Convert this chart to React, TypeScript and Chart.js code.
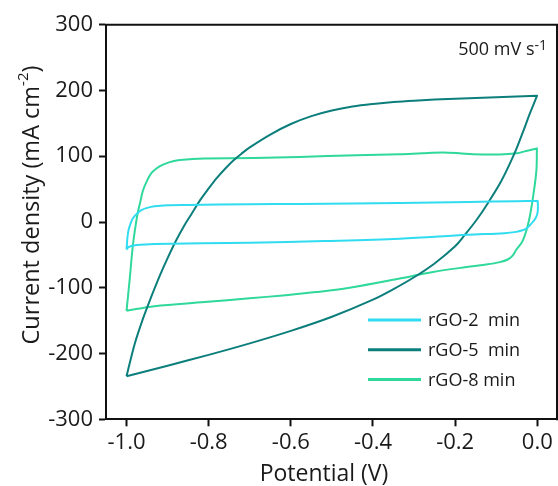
import React, { useEffect, useRef } from 'react';
import { Chart, registerables } from 'chart.js';

Chart.register(...registerables);

const FONT = "'Open Sans', 'DejaVu Sans', sans-serif";
const TEXT_COLOR = '#1a1a1a';
const AXIS_COLOR = '#111111';

const seriesLabels = ['rGO-2  min', 'rGO-5  min', 'rGO-8 min'];
const seriesColors = ['#30DCF0', '#0C7F7C', '#2FD89B'];

// rGO-2 min : potential (V) and current density (mA cm-2), loop order
const rgo2Potential = [
  -1.0, -0.998, -0.995, -0.99, -0.984, -0.976, -0.964, -0.95, -0.932, -0.9, -0.85, -0.7, -0.58, -0.45, -0.335,
  -0.165, -0.05, -0.001,
  0.001, 0.001, -0.004, -0.011, -0.018, -0.027, -0.038, -0.051, -0.08, -0.17, -0.335, -0.518, -0.7, -0.93,
  -0.975, -0.995, -1.0,
];
const rgo2Current = [
  -42, -25, -12, -2, 6, 12, 18, 21.5, 24, 25.5, 26, 27, 27.5, 28.3, 29,
  30.5, 31.5, 32,
  32, 15, 6, 0, -5, -10, -13, -15, -17, -19.5, -25.5, -29, -31.5, -33.5,
  -35, -38, -42,
];

// rGO-5 min
const rgo5Potential = [
  -1.0, -0.98, -0.96, -0.94, -0.92, -0.9, -0.88, -0.86, -0.84, -0.82, -0.8, -0.78, -0.76, -0.74, -0.72, -0.7,
  -0.65, -0.6, -0.55, -0.5, -0.45, -0.4, -0.35, -0.3, -0.2, -0.1, -0.001,
  -0.0005, -0.018, -0.036, -0.055, -0.087, -0.12, -0.148, -0.177, -0.2, -0.25, -0.3, -0.35, -0.4,
  -0.5, -0.6, -0.7, -0.8, -0.9, -1.0,
];
const rgo5Current = [
  -234.5, -185, -147, -114, -83, -55, -29, -6, 14, 34, 51, 67, 81, 93.5, 104, 113.5,
  133, 149, 161, 169.5, 175.5, 179.5, 182.5, 184.5, 187.5, 189.5, 192,
  192, 165, 135, 105, 63, 29, 3, -20, -37, -63, -84, -102, -118,
  -144, -165.5, -184.5, -202, -218.5, -234.5,
];

// rGO-8 min
const rgo8Potential = [
  -1.0, -0.992, -0.985, -0.979, -0.973, -0.966, -0.96, -0.95, -0.94, -0.928, -0.915, -0.895, -0.875, -0.84,
  -0.81, -0.69, -0.58, -0.44, -0.335, -0.28, -0.23, -0.19, -0.157, -0.092, -0.05, -0.027, -0.001,
  -0.001, -0.002, -0.008, -0.02, -0.035, -0.052, -0.06, -0.072, -0.091, -0.128, -0.172, -0.254, -0.335, -0.457,
  -0.538, -0.619, -0.7, -0.81, -0.932, -1.0,
];
const rgo8Current = [
  -135, -85, -38, -10, 13, 32, 48, 63, 74, 81, 86, 91, 94, 95.8,
  96.5, 97.5, 99, 101.5, 103, 104.5, 105.5, 104.5, 103, 102.6, 104.5, 108, 111.7,
  111.7, 80, 48, 3, -28, -43, -51, -57, -61, -65, -68.5, -76, -86, -100,
  -106.6, -111.6, -116, -121.8, -128, -135,
];

const seriesPotentials = [rgo2Potential, rgo5Potential, rgo8Potential];
const seriesCurrents = [rgo2Current, rgo5Current, rgo8Current];

const xTicks = [-1.0, -0.8, -0.6, -0.4, -0.2, 0.0];
const yTicks = [-300, -200, -100, 0, 100, 200, 300];

const xTitle = 'Potential (V)';
const yTitleParts = [
  { text: 'Current density (mA cm', sup: false },
  { text: '-2', sup: true },
  { text: ')', sup: false },
];
const rateParts = [
  { text: '500 mV s', sup: false },
  { text: '-1', sup: true },
];

type Part = { text: string; sup: boolean };

function drawParts(ctx: CanvasRenderingContext2D, parts: Part[], x: number, y: number, size: number, supSize: number, raise: number, align: 'left' | 'center' | 'right') {
  const widths = parts.map((p) => {
    ctx.font = `${p.sup ? supSize : size}px ${FONT}`;
    return ctx.measureText(p.text).width;
  });
  const total = widths.reduce((a, b) => a + b, 0);
  let cx = align === 'left' ? x : align === 'center' ? x - total / 2 : x - total;
  ctx.textAlign = 'left';
  ctx.textBaseline = 'alphabetic';
  parts.forEach((p, i) => {
    ctx.font = `${p.sup ? supSize : size}px ${FONT}`;
    ctx.fillText(p.text, cx, p.sup ? y - raise : y);
    cx += widths[i];
  });
}

const decorPlugin = {
  id: 'decor',
  afterDraw(chart: any) {
    const ctx: CanvasRenderingContext2D = chart.ctx;
    const a = chart.chartArea;
    ctx.save();
    // frame top and right
    ctx.strokeStyle = AXIS_COLOR;
    ctx.lineWidth = 2;
    ctx.beginPath();
    ctx.moveTo(a.left - 1, a.top);
    ctx.lineTo(a.right, a.top);
    ctx.lineTo(a.right, a.bottom + 1);
    ctx.stroke();

    ctx.fillStyle = TEXT_COLOR;
    // x title
    ctx.font = `23px ${FONT}`;
    ctx.textAlign = 'center';
    ctx.textBaseline = 'alphabetic';
    ctx.fillText(xTitle, 324, 481);

    // y title rotated
    ctx.save();
    ctx.translate(38.5, 205);
    ctx.rotate(-Math.PI / 2);
    drawParts(ctx, yTitleParts, 0, 0, 23.5, 15, 11, 'center');
    ctx.restore();

    // scan rate annotation
    drawParts(ctx, rateParts, 547, 55, 18, 14, 5, 'right');

    // legend
    chart.data.datasets.forEach((ds: any, i: number) => {
      const y = 320 + i * 29.7;
      ctx.strokeStyle = ds.borderColor;
      ctx.lineWidth = 3;
      ctx.beginPath();
      ctx.moveTo(368, y);
      ctx.lineTo(421, y);
      ctx.stroke();
      ctx.fillStyle = TEXT_COLOR;
      ctx.font = `18px ${FONT}`;
      ctx.textAlign = 'left';
      ctx.textBaseline = 'middle';
      ctx.fillText(ds.label, 428, y + 1);
    });
    ctx.restore();
  },
};

export default function App() {
  const canvasRef = useRef<HTMLCanvasElement | null>(null);

  useEffect(() => {
    if (!canvasRef.current) return;
    const datasets = seriesLabels.map((label, i) => ({
      label,
      data: seriesPotentials[i].map((v, j) => ({ x: v, y: seriesCurrents[i][j] })),
      borderColor: seriesColors[i],
      backgroundColor: seriesColors[i],
      borderWidth: 2,
      pointRadius: 0,
      showLine: true,
      fill: false,
      tension: 0.35,
    }));
    const chart = new Chart(canvasRef.current, {
      type: 'scatter',
      data: { datasets },
      options: {
        animation: false,
        responsive: true,
        maintainAspectRatio: false,
        layout: { padding: { top: 24.7, right: 1, left: 0, bottom: 0 } },
        plugins: { legend: { display: false }, tooltip: { enabled: false } },
        scales: {
          x: {
            type: 'linear',
            min: -1.05,
            max: 0.048,
            afterBuildTicks: (s: any) => {
              s.ticks = xTicks.map((v) => ({ value: v }));
            },
            afterFit: (s: any) => {
              s.height = 66.7;
            },
            ticks: {
              font: { family: FONT, size: 22 },
              color: TEXT_COLOR,
              padding: 3,
              maxRotation: 0,
              autoSkip: false,
              callback: (v: any) => {
                const t = Number(v).toFixed(1);
                return t === '-0.0' ? '0.0' : t;
              },
            },
            grid: { drawOnChartArea: false, drawTicks: true, tickLength: 7, tickWidth: 2, tickColor: AXIS_COLOR },
            border: { display: true, width: 2, color: AXIS_COLOR },
          },
          y: {
            type: 'linear',
            min: -300,
            max: 300,
            afterBuildTicks: (s: any) => {
              s.ticks = yTicks.map((v) => ({ value: v }));
            },
            afterFit: (s: any) => {
              s.width = 106;
            },
            ticks: {
              font: { family: FONT, size: 22 },
              color: TEXT_COLOR,
              padding: 6,
              autoSkip: false,
              callback: (v: any) => String(v),
            },
            grid: { drawOnChartArea: false, drawTicks: true, tickLength: 7, tickWidth: 2, tickColor: AXIS_COLOR },
            border: { display: true, width: 2, color: AXIS_COLOR },
          },
        },
      },
      plugins: [decorPlugin],
    } as any);
    return () => chart.destroy();
  }, []);

  return (
    <div style={{ position: 'fixed', left: 0, top: 0, width: 558, height: 486, background: '#fff' }}>
      <canvas ref={canvasRef} />
    </div>
  );
}
